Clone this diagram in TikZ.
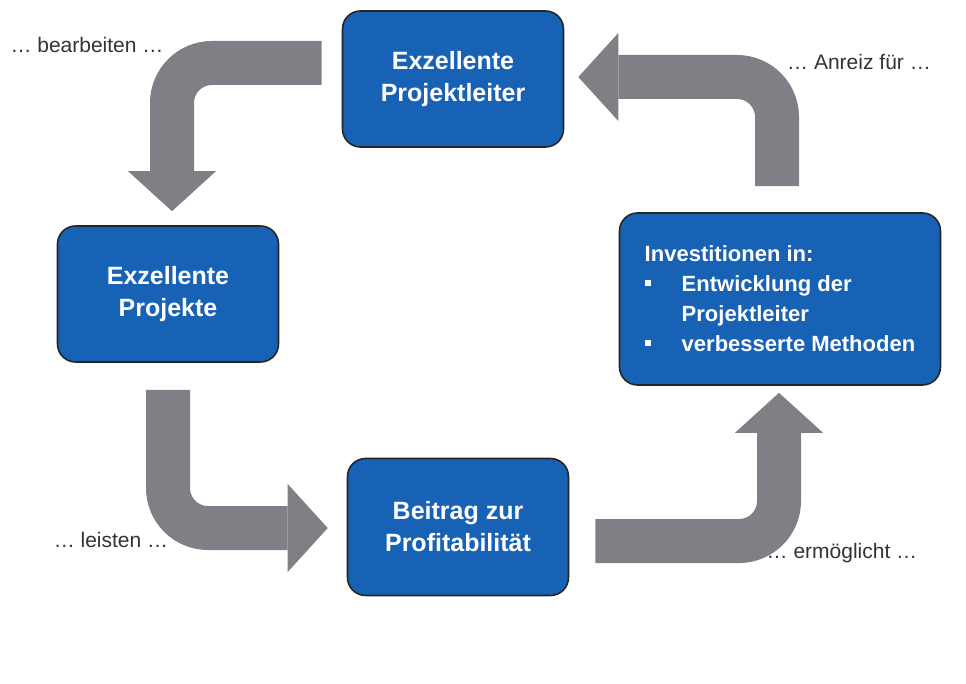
\documentclass[tikz,border=0pt]{standalone}
\usepackage{fontspec}
\setmainfont{Liberation Sans}
\usetikzlibrary{arrows.meta}
\definecolor{boxblue}{HTML}{1862B5}
\definecolor{flowgray}{HTML}{7F8085}
\definecolor{labgray}{HTML}{333333}
\tikzset{
    box/.style={
        draw=black!85, line width=1.6pt, fill=boxblue, rounded corners=18pt,
        text=white, align=center, minimum width=221pt, minimum height=136pt,
        font=\fontsize{25}{32}\selectfont\bfseries
    },
    flow/.style={
        draw=flowgray, line width=44pt, rounded corners=40pt,
        -{Triangle[length=40pt,width=88pt,line width=0pt]}
    },
    lab/.style={
        text=labgray, anchor=base, font=\fontsize{21}{25}\selectfont
    }
}
\newcommand{\bul}{\makebox[37pt][l]{\raisebox{6pt}{\rule{6pt}{6pt}}}}

\begin{document}
\begin{tikzpicture}[x=1pt,y=-1pt]

\useasboundingbox (0,0) rectangle (966,684);

% the four boxes of the cycle
\node[box] (pl) at (453,79) {Exzellente\\Projektleiter};
\node[box] (pj) at (168,294) {Exzellente\\Projekte};
\node[box, minimum height=137pt] (pr) at (458,527) {Beitrag zur\\Profitabilit\"at};
\node[box, minimum width=321pt, minimum height=172pt, font=\fontsize{22}{30}\selectfont\bfseries, align=left]
  (inv) at (780,299)
  {Investitionen in:\\
   \bul Entwicklung der\\
   \hspace*{37pt}Projektleiter\\
   \bul verbesserte Methoden};

% bent arrows between the boxes
\draw[flow] ([xshift=-20pt,yshift=16pt]pl.west) -| ([xshift=4pt,yshift=14pt]pj.north);
\draw[flow] ([yshift=-27pt]pj.south) |- ([xshift=-19pt,yshift=-1pt]pr.west);
\draw[flow] ([xshift=26pt,yshift=-14pt]pr.east) -| ([xshift=-1pt,yshift=-7pt]inv.south);
\draw[flow] ([xshift=-3pt,yshift=26pt]inv.north) |- ([xshift=14pt,yshift=2pt]pl.east);

% labels on the arrows
\node[lab] (bearb) at (87,53) {… bearbeiten …};
\node[lab] (leist) at (111,547) {… leisten …};
\node[lab] (ermgl) at (842,558) {… ermöglicht …};
\node[lab] (anrz) at (859,70) {… Anreiz für …};

\end{tikzpicture}
\end{document}
